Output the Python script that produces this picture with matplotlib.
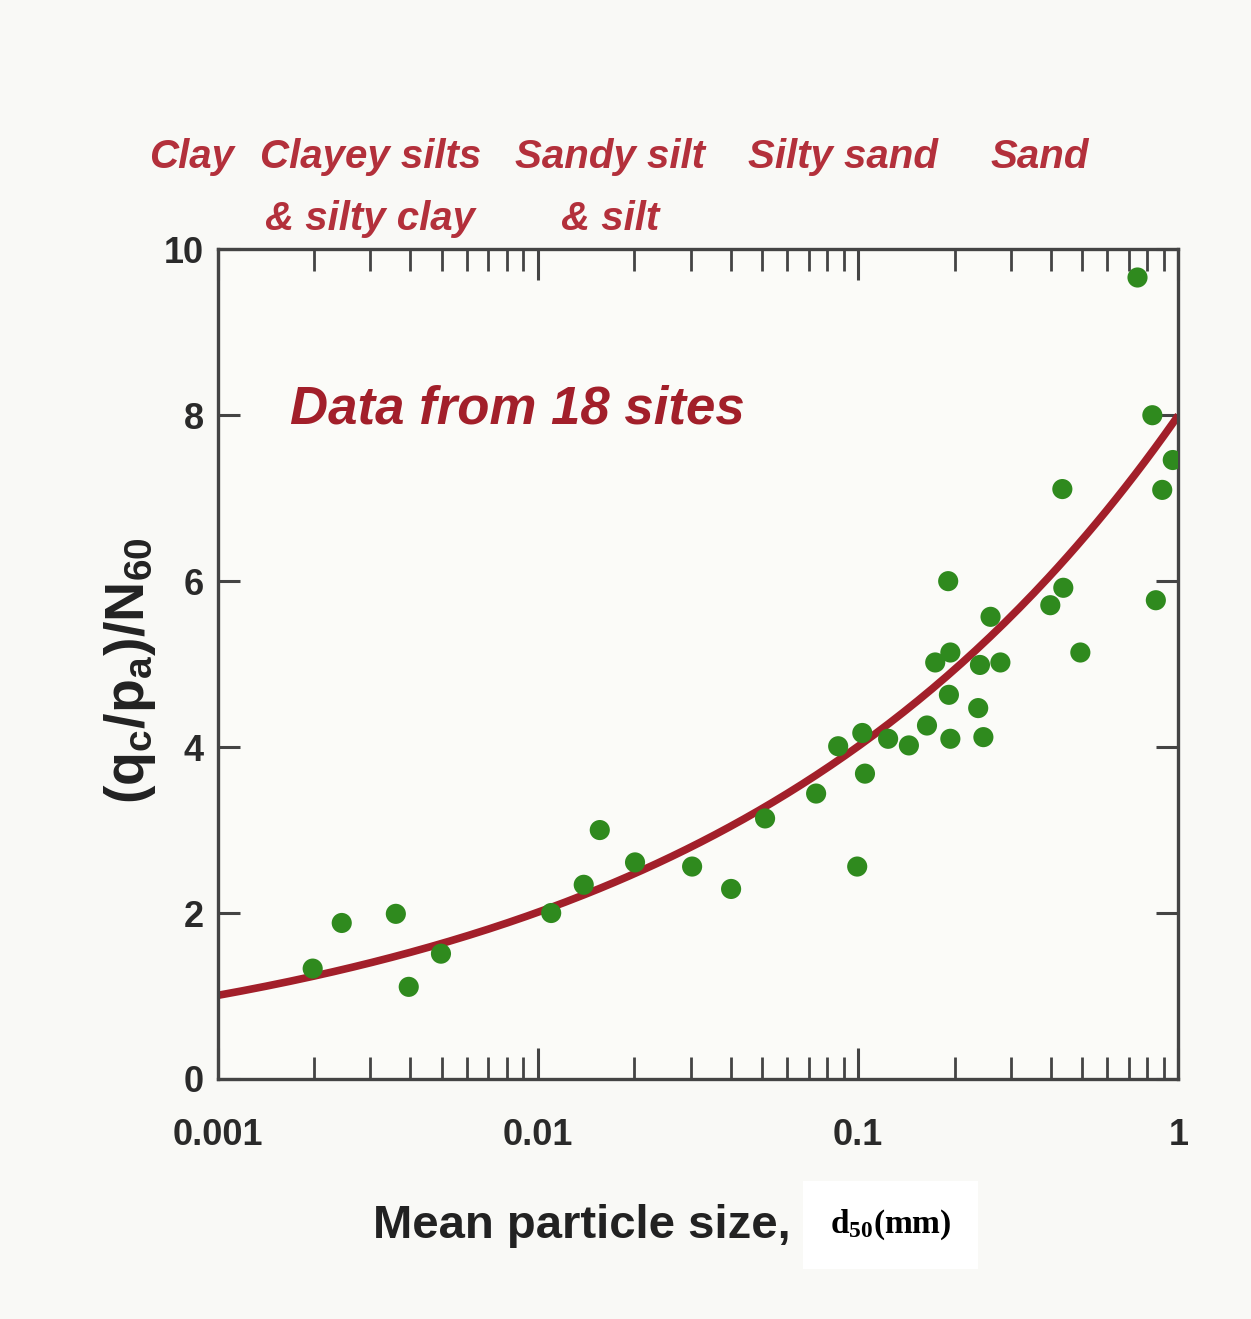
import numpy as np
import matplotlib
matplotlib.use('Agg')
import matplotlib.pyplot as plt

# measured points: mean particle size d50 (mm) vs (qc/pa)/N60
d50 = [0.00198, 0.00244, 0.0036, 0.00395, 0.00498, 0.011, 0.0139, 0.0156,
       0.0201, 0.0303, 0.0401, 0.0512, 0.0739, 0.0866, 0.0993, 0.105, 0.103,
       0.124, 0.144, 0.164, 0.174, 0.191, 0.194, 0.192, 0.194, 0.237, 0.246,
       0.240, 0.259, 0.278, 0.398, 0.437, 0.434, 0.494, 0.745, 0.829, 0.85,
       0.89, 0.96]
ratio = [1.33, 1.88, 1.99, 1.11, 1.51, 2.0, 2.34, 3.0, 2.61, 2.56, 2.29, 3.14,
         3.44, 4.01, 2.56, 3.68, 4.17, 4.1, 4.02, 4.26, 5.02, 6.0, 5.14, 4.63,
         4.1, 4.47, 4.12, 4.99, 5.57, 5.02, 5.71, 5.92, 7.11, 5.14, 9.66, 8.0,
         5.77, 7.1, 7.46]

# trend line  y = a * d50^b
fit_a = 8.0
fit_b = 0.3

soil_top = ['Clay', 'Clayey silts', 'Sandy silt', 'Silty sand', 'Sand']
soil_bottom = ['', '& silty clay', '& silt', '', '']

x_ticks = [0.001, 0.01, 0.1, 1]
x_ticklabels = ['0.001', '0.01', '0.1', '1']
y_ticks = [0, 2, 4, 6, 8, 10]

red = '#b3303b'
dark_red = '#a21f2a'
green = '#2f8a1e'
sans = ['Liberation Sans', 'DejaVu Sans']

fig = plt.figure(figsize=(12.51, 13.19), dpi=100, facecolor='#f9f9f6')
ax = fig.add_axes([0.174, 0.182, 0.768, 0.629])
ax.set_facecolor('#fbfbf8')

xs = np.logspace(-3, 0, 200)
ax.plot(xs, fit_a * xs ** fit_b, color=dark_red, lw=5.5, zorder=2,
        solid_capstyle='butt')
ax.scatter(d50, ratio, s=210, color=green, edgecolors='none', zorder=3)

ax.set_xscale('log')
ax.set_xlim(0.001, 1)
ax.set_ylim(0, 10)
ax.set_xticks(x_ticks)
ax.set_xticklabels(x_ticklabels)
ax.set_yticks(y_ticks)
ax.tick_params(which='major', direction='in', top=True, right=True,
               length=22, width=2.2, color='#444444', labelsize=26)
ax.tick_params(which='minor', direction='in', top=True, right=True,
               length=16, width=2.0, color='#444444')
ax.tick_params(axis='y', which='major', length=16, pad=10)
ax.tick_params(axis='x', which='major', pad=28)
for lab in ax.get_xticklabels() + ax.get_yticklabels():
    lab.set_family(sans)
    lab.set_fontweight('bold')
    lab.set_color('#2a2a2a')
for sp in ax.spines.values():
    sp.set_linewidth(2.4)
    sp.set_color('#444444')

# soil type labels above the frame
label_x = [0.153, 0.296, 0.488, 0.674, 0.831]
for top, bottom, xf in zip(soil_top, soil_bottom, label_x):
    fig.text(xf, 0.8726, top, ha='center', va='baseline', fontsize=29,
             style='italic', fontweight='bold', color=red, family=sans)
    if bottom:
        fig.text(xf, 0.8256, bottom, ha='center', va='baseline', fontsize=29,
                 style='italic', fontweight='bold', color=red, family=sans)

ax.text(0.00168, 8.07, 'Data from 18 sites', fontsize=38, style='italic',
        fontweight='bold', color=dark_red, family=sans, va='center')

fig.text(0.104, 0.492, r'$\mathdefault{(q_c/p_a)/N_{60}}$', rotation=90,
         ha='center', va='center', fontsize=40, fontweight='bold',
         family=sans, color='#222222')

fig.text(0.632, 0.0705, 'Mean particle size,', ha='right', va='center',
         fontsize=34, fontweight='bold', family=sans, color='#222222')
fig.text(0.6635, 0.0715, r'$\mathdefault{d_{50}}$(mm)', ha='left', va='center',
         fontsize=24, fontweight='bold', family='Liberation Serif',
         color='black',
         bbox=dict(boxstyle='square,pad=0.8', fc='white', ec='none'))

fig.savefig('out.png', dpi=100, facecolor=fig.get_facecolor())
